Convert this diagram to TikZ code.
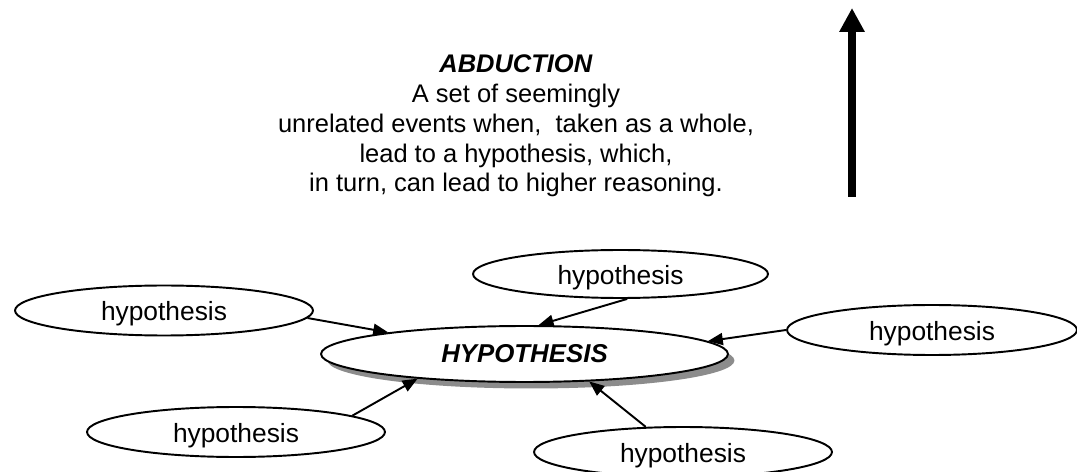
\documentclass[tikz,border=0pt]{standalone}
\usepackage{fontspec}
\setmainfont{Liberation Sans}
\usepackage{tikz}
\usetikzlibrary{shapes.geometric, arrows.meta, shadows}
\tikzstyle{hypo} = [ellipse, draw=black, line width=1.1pt, fill=white, inner sep=0pt, minimum width=5.96cm, minimum height=1cm, text height=15pt, font=\fontsize{15}{18}\selectfont]
\tikzstyle{main} = [ellipse, draw=black, line width=1.1pt, fill=white, inner sep=0pt, minimum width=8.14cm, minimum height=1.12cm, font=\fontsize{14.7}{18}\selectfont\bfseries\itshape, drop shadow={shadow xshift=0.13cm, shadow yshift=-0.13cm, opacity=1, fill=black!45}]
\tikzstyle{arrow} = [line width=1.1pt, ->, >={Triangle[length=0.3cm, width=0.24cm]}]
\tikzstyle{bigarrow} = [line width=4.7pt, ->, >={Triangle[length=0.48cm, width=0.48cm]}]
\tikzstyle{abtext} = [align=center, inner sep=0pt, font=\fontsize{14.5}{17}\selectfont]

\begin{document}
\begin{tikzpicture}[x=0.02cm, y=-0.02cm]
		\clip (0,0) rectangle (1077,472);
		\node (abd) [abtext] at (516,126) {\textbf{\textit{ABDUCTION}}\\A set of seemingly\\unrelated events when,\ \ taken as a whole,\\lead to a hypothesis, which,\\in turn, can lead to higher reasoning.};
		\coordinate (low) at (852,197);
		\coordinate (high) at (852,8);
		\draw [bigarrow] (low) -- (high);
		\node (hyp) [main] at (524.5,354) {HYPOTHESIS};
		\node (h1) [hypo] at (164,310.5) {hypothesis};
		\node (h2) [hypo, minimum width=5.9cm, minimum height=0.96cm] at (620.5,274) {hypothesis};
		\node (h3) [hypo, minimum width=5.8cm] at (932,330) {hypothesis};
		\node (h4) [hypo] at (236,432) {hypothesis};
		\node (h5) [hypo] at (683,452) {hypothesis};
		\draw [arrow] (h1.-3) -- (hyp.171);
		\draw [arrow] (h2.285) -- (hyp.64);
		\draw [arrow] (h3.180) -- (hyp.4);
		\draw [arrow] (h4.8) -- (hyp.193);
		\draw [arrow] (h5.146) -- (hyp.337);
	\end{tikzpicture}
\end{document}
